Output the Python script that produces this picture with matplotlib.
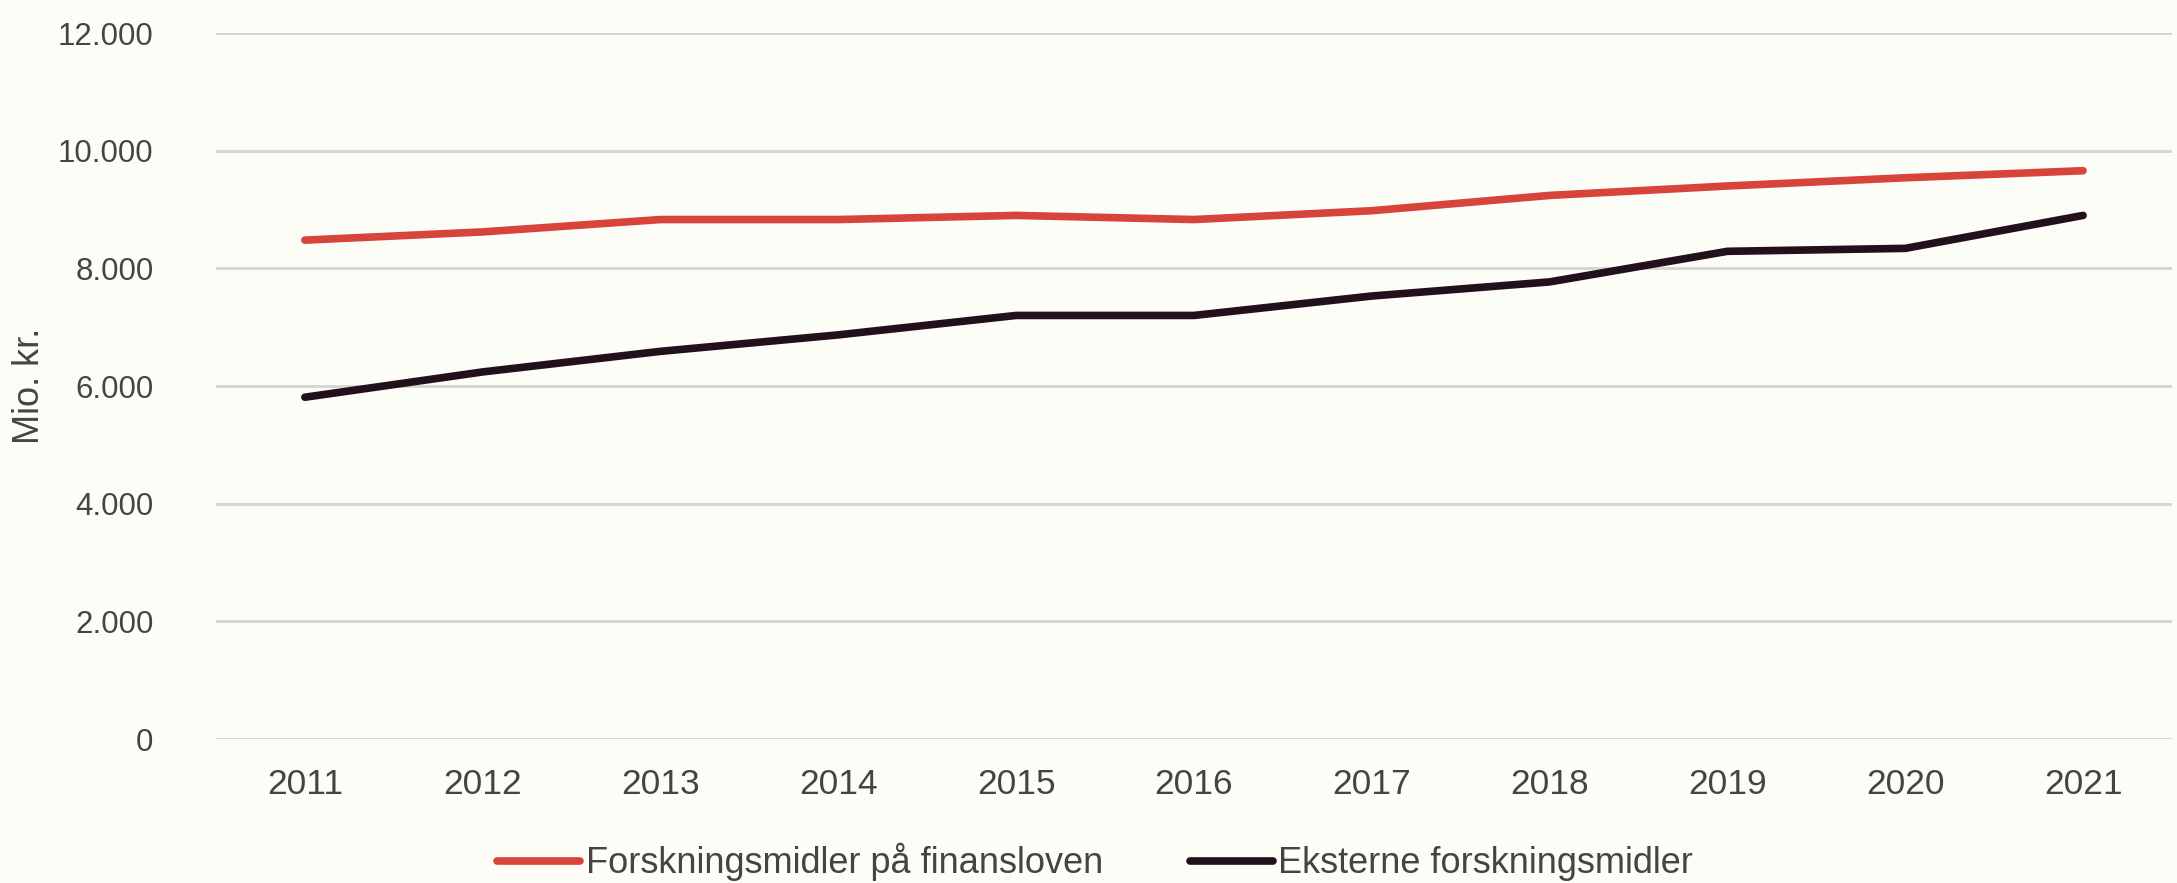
import matplotlib.pyplot as plt
from matplotlib.ticker import FuncFormatter

plt.rcParams['font.family'] = ['Liberation Sans', 'DejaVu Sans']

years = ["2011", "2012", "2013", "2014", "2015", "2016", "2017", "2018", "2019", "2020", "2021"]
finanslov = [8480, 8620, 8830, 8830, 8900, 8830, 8980, 9240, 9400, 9540, 9660]
eksterne = [5810, 6240, 6590, 6870, 7200, 7200, 7530, 7770, 8290, 8340, 8900]

bg = "#fdfdf8"
text_col = "#444444"

fig = plt.figure(figsize=(21.77, 8.83), dpi=100, facecolor=bg)
ax = fig.add_axes([0.0992, 0.163, 0.8985, 0.7996], facecolor=bg)

x = range(len(years))
ax.plot(x, finanslov, color="#d9443a", lw=5.5, solid_capstyle="round",
        label="Forskningsmidler på finansloven", zorder=3)
ax.plot(x, eksterne, color="#22111a", lw=5.5, solid_capstyle="round",
        label="Eksterne forskningsmidler", zorder=3)

ax.set_xlim(-0.5, len(years) - 0.5)
ax.set_ylim(0, 12000)
ax.set_yticks(range(0, 12001, 2000))
ax.yaxis.set_major_formatter(FuncFormatter(lambda v, p: f"{int(v):,}".replace(",", ".")))
ax.set_xticks(list(x))
ax.set_xticklabels(years)

ax.grid(axis="y", color="#d4d4d0", lw=2)
ax.set_axisbelow(True)
for s in ax.spines.values():
    s.set_visible(False)
ax.tick_params(length=0, colors=text_col)
ax.tick_params(axis="y", pad=45, labelsize=22.5)
ax.tick_params(axis="x", pad=21, labelsize=25.5)

ax.set_ylabel("Mio. kr.", fontsize=26, color=text_col, labelpad=8)

leg = fig.legend(loc="lower center", bbox_to_anchor=(0.503, -0.035), ncol=2, frameon=False,
                 fontsize=26, handlelength=2.3, handletextpad=0.15, columnspacing=2.4)
for t in leg.get_texts():
    t.set_color(text_col)

fig.savefig("out.png", dpi=100, facecolor=bg)
